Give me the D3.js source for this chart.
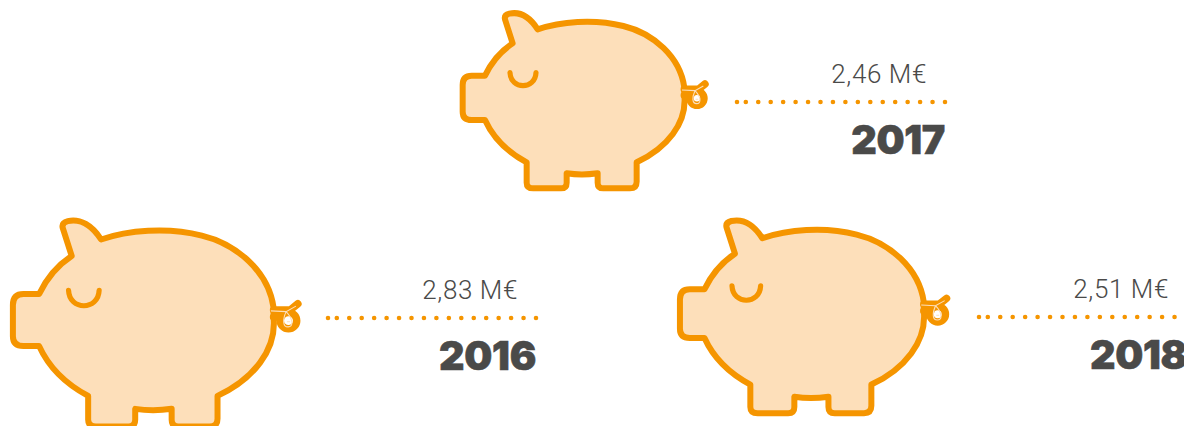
<!DOCTYPE html>
<html>
<head>
<meta charset="utf-8">
<script src="https://d3js.org/d3.v7.min.js"></script>
<style>
  html, body { margin: 0; padding: 0; background: #fff; overflow: hidden; }
  .value { font-family: "Roboto", sans-serif; font-weight: 300; font-size: 26px; fill: #4a4a49; letter-spacing: 0.6px; }
  .year { font-family: "Inter", sans-serif; font-weight: 900; font-size: 39.5px; fill: #4a4a49; stroke: #4a4a49; stroke-width: 0.6px; letter-spacing: -0.3px; }
</style>
</head>
<body>
<div id="d3-container"></div>
<script>
/**
 * DATA
 * */
const years = [2016, 2017, 2018];
const values = [2.83, 2.46, 2.51];
const unit = "M€";

/**
 * CONSTANTS
 * */
const width = 1184,
  height = 426,
  orange = "#f59500",
  pale = "#fddfba";

// where each pig and its leader line go
const layout = {
  2016: { x: -2, y: 205, right: 536, lineY: 318 },
  2017: { x: 450, y: 0, right: 945, lineY: 102 },
  2018: { x: 666, y: 206, right: 1187, lineY: 317 },
};

// pig size grows with the value
const pigScale = d3.scaleLinear()
  .domain([2.46, 2.51, 2.83])
  .range([0.3333, 0.3667, 0.392]);

const format = d3.formatLocale({ decimal: ",", thousands: ".", grouping: [3], currency: ["", "€"] }).format(".2f");

// pig outline, drawn in its own coordinates
const bodyPath = "M188,130 L165,58 Q162,45 178,41 C210,34 240,52 263,88 " +
  "C330,65 430,55 520,78 C610,100 690,170 703,262 L703,285 " +
  "C712,370 650,445 560,487 L560,545 Q560,565 540,565 L460,565 Q443,565 443,548 L443,520 " +
  "Q395,527 350,520 L350,548 Q350,565 333,565 L250,565 Q230,565 230,548 L230,487 " +
  "C170,455 130,415 105,360 L65,360 Q38,360 38,335 L38,255 Q38,227 65,227 L105,227 " +
  "C125,185 150,155 188,130 Z";
const eyePath = "M180,218 C182,270 256,270 258,218";
const tailPath = "M703,268 L745,268 L765,252 M703,286 L722,286 M720,295 A21,21 0 1 0 762,295 A21,21 0 1 0 720,295";
const tailThin = "M696,270 L735,272 L760,258 M735,272 C754,292 754,311 740,311 C726,311 726,292 735,272 M737,298 L745,298";

/**
 * DRAW
 * */
const svg = d3.select("#d3-container")
  .append("svg")
  .attr("width", width)
  .attr("height", height)
  .style("display", "block");

const group = svg.selectAll("g.pig")
  .data(years.map((year, i) => ({ year, value: values[i] })))
  .join("g")
  .attr("class", "pig");

const pig = group.append("g")
  .attr("transform", d => `translate(${layout[d.year].x},${layout[d.year].y}) scale(${pigScale(d.value)})`);

pig.append("path")
  .attr("d", bodyPath)
  .attr("fill", pale)
  .attr("stroke", orange)
  .attr("stroke-width", d => 6 / pigScale(d.value))
  .attr("stroke-linejoin", "round");

pig.append("path")
  .attr("d", eyePath)
  .attr("fill", "none")
  .attr("stroke", orange)
  .attr("stroke-width", d => 5.2 / pigScale(d.value))
  .attr("stroke-linecap", "round");

pig.append("path")
  .attr("d", tailPath)
  .attr("fill", "none")
  .attr("stroke", orange)
  .attr("stroke-width", d => 7.5 / pigScale(d.value))
  .attr("stroke-linecap", "round")
  .attr("stroke-linejoin", "round");

pig.append("path")
  .attr("d", tailThin)
  .attr("fill", "none")
  .attr("stroke", pale)
  .attr("stroke-width", d => 1.1 / pigScale(d.value));

// dotted leader: spaced from the right, with one extra dot closing the left end
group.append("path")
  .attr("d", d => {
    const l = layout[d.year];
    return `M${l.right},${l.lineY} L${l.right - 200},${l.lineY} M${l.right - 208},${l.lineY} h0.01`;
  })
  .attr("fill", "none")
  .attr("stroke", orange)
  .attr("stroke-width", 4.6)
  .attr("stroke-linecap", "round")
  .attr("stroke-dasharray", "0 12.45");

group.append("text")
  .attr("class", "value")
  .attr("x", d => layout[d.year].right - 18)
  .attr("y", d => layout[d.year].lineY - 19)
  .attr("text-anchor", "end")
  .text(d => `${format(d.value)} ${unit}`);

group.append("text")
  .attr("class", "year")
  .attr("x", d => layout[d.year].right)
  .attr("y", d => layout[d.year].lineY + 52)
  .attr("text-anchor", "end")
  .text(d => d.year);
</script>
</body>
</html>
